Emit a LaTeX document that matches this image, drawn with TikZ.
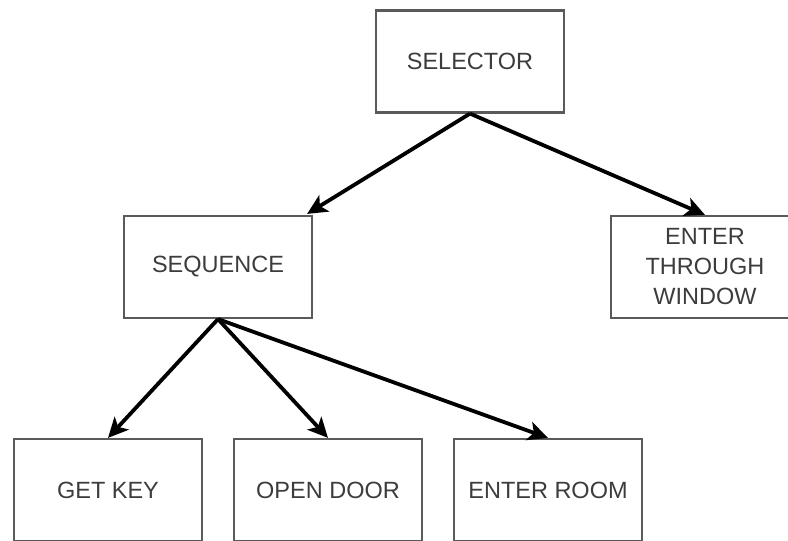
\documentclass[tikz,border=0pt]{standalone}
\usepackage{fontspec}
\setmainfont{Liberation Sans}
\usetikzlibrary{arrows.meta,calc}
\definecolor{boxline}{HTML}{5A5A5A}
\definecolor{boxtext}{HTML}{3C3C3C}
\tikzset{
  taskbox/.style={draw=boxline, line width=2.2pt, fill=white,
    minimum width=188pt, minimum height=102pt, inner sep=0pt,
    align=center, text=boxtext, font=\fontsize{23.5}{30}\selectfont},
  link/.style={line width=3.8pt, draw=black,
    -{Stealth[length=20pt, width=19pt, inset=5pt]}},
}
\begin{document}
\begin{tikzpicture}[x=1pt, y=-1pt]
  \useasboundingbox (0,0) rectangle (788,541);
  \clip (0,0) rectangle (788,541);
  % tree nodes
  \node[taskbox] (sel) at (470,61.5) {SELECTOR};
  \node[taskbox] (seq) at (218,267) {SEQUENCE};
  \node[taskbox] (win) at (705,267) {ENTER\\THROUGH\\WINDOW};
  \node[taskbox] (gk)  at (108,490) {GET KEY};
  \node[taskbox] (od)  at (328,490) {OPEN DOOR};
  \node[taskbox] (er)  at (548,490) {ENTER ROOM};
  % connectors
  \coordinate (seqin) at ($(seq.north east)+(-6,-1)$);
  \draw[link] (sel.south) -- (seqin);
  \draw[link] (sel.south) -- (win.north);
  \draw[link] (seq.south) -- (gk.north);
  \draw[link] (seq.south) -- (od.north);
  \draw[link] (seq.south) -- (er.north);
\end{tikzpicture}
\end{document}
